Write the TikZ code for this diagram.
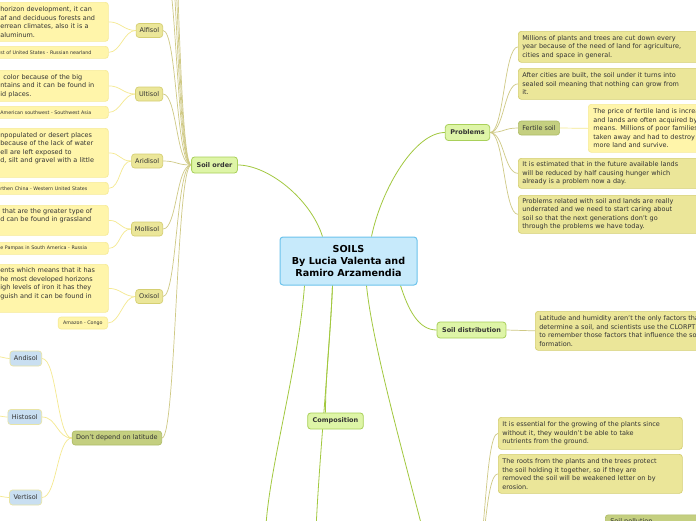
\documentclass[tikz,border=0pt]{standalone}
\usepackage{fontspec}
\setmainfont{DejaVu Sans}
\definecolor{cfill}{HTML}{C7EAFB}
\definecolor{cbd}{HTML}{6CC3EC}
\definecolor{mfill}{HTML}{DEF5A7}
\definecolor{mbd}{HTML}{A9D05A}
\definecolor{mline}{HTML}{A2C83F}
\definecolor{ofill}{HTML}{EBE699}
\definecolor{obd}{HTML}{D5CF72}
\definecolor{oline}{HTML}{CFC985}
\definecolor{dfill}{HTML}{C4CF80}
\definecolor{dbd}{HTML}{B0BD67}
\definecolor{yfill}{HTML}{FFF5AA}
\definecolor{ybd}{HTML}{F6EB98}
\definecolor{yline}{HTML}{F5E990}
\definecolor{bfill}{HTML}{C9DFF1}
\definecolor{bbd}{HTML}{E8E4A6}
\definecolor{txt}{HTML}{333333}
\newcommand\mmtext{\fontsize{6.5}{8.5}\selectfont}
\newcommand\mmtiny{\fontsize{4.8}{6}\selectfont}
\pgfdeclarelayer{bg}
\pgfsetlayers{bg,main}
\tikzset{
  box/.style={rounded corners=3pt, line width=0.7pt, text=txt, font=\mmtext, inner ysep=2pt},
  central/.style={box, fill=cfill, draw=cbd, line width=1pt, minimum width=137pt, minimum height=48pt,
    align=center, font=\bfseries\fontsize{9.6}{12}\selectfont, text=black},
  mainnode/.style={box, fill=mfill, draw=mbd, line width=0.8pt, minimum height=16pt, inner xsep=5pt,
    font=\bfseries\fontsize{6.5}{8}\selectfont},
  och/.style={box, fill=ofill, draw=obd, minimum height=14pt, inner xsep=3.5pt},
  dark/.style={box, fill=dfill, draw=dbd, minimum height=14pt, inner xsep=4pt},
  bluenode/.style={box, fill=bfill, draw=bbd, minimum height=15pt, inner xsep=4pt},
  ydesc/.style={box, fill=yfill, draw=ybd, anchor=north west, inner xsep=6pt, text width=102pt, align=left},
  yloc/.style={box, fill=yfill, draw=ybd, anchor=north west, inner xsep=6pt, text width=102pt, align=left,
    font=\mmtiny, minimum height=12pt, inner ysep=1pt},
  otext/.style={box, fill=ofill, draw=obd, anchor=north west, inner xsep=4pt, text width=200pt, align=left},
  ytext/.style={box, fill=yfill, draw=ybd, anchor=north west, inner xsep=5pt, text width=200pt, align=left},
  mconn/.style={draw=mline, line width=0.8pt},
  oconn/.style={draw=oline, line width=0.7pt},
  yconn/.style={draw=yline, line width=0.7pt},
}
\begin{document}
\begin{tikzpicture}[x=1pt,y=-1pt]
\useasboundingbox (0,0) rectangle (696,520);
\clip (0,0) rectangle (696,520);
\begin{pgfonlayer}{bg}
\fill[white] (0,0) rectangle (696,520);
\end{pgfonlayer}

% off-frame coordinates
\coordinate (u1) at (163,-40);
\coordinate (u2) at (163,-100);
\coordinate (u3) at (163,-170);
\coordinate (u4) at (163,-250);
\coordinate (b1) at (266,525);
\coordinate (b2) at (316,530);
\coordinate (b3) at (424,535);
\coordinate (bp) at (472,575);
\coordinate (sa) at (-14,354);
\coordinate (sh) at (-14,414);
\coordinate (sv) at (-14,494);

% central and main branches
\node[central] (c) at (348.5,261) {SOILS\\By Lucia Valenta and\\Ramiro Arzamendia};
\node[mainnode] (so) at (214.5,165) {Soil order};
\node[mainnode] (pr) at (467.5,132.5) {Problems};
\node[mainnode] (sd) at (471.5,330) {Soil distribution};
\node[mainnode] (cm) at (335.5,421) {Composition};

% soil order children
\node[och, anchor=east] (alf) at (163,30.5) {Alfisol};
\node[och, anchor=east] (ult) at (163,94) {Ultisol};
\node[och, anchor=east] (ari) at (163,161) {Aridisol};
\node[och, anchor=east] (mol) at (163,229) {Mollisol};
\node[och, anchor=east] (oxi) at (163,296.5) {Oxisol};
\node[dark, anchor=east] (dd) at (162,438) {Don't depend on latitude};

\node[bluenode, anchor=east] (and) at (42,358.5) {Andisol};
\node[bluenode, anchor=east] (his) at (42,417) {Histosol};
\node[bluenode, anchor=east] (ver) at (42,497.5) {Vertisol};

% left descriptions
\node[ydesc, minimum height=39pt] (alfd) at (-6,2) {horizon development, it can\\af and deciduous forests and\\errean climates, also it is a\\aluminum.};
\node[yloc] (alfl) at (-6,46) {st of United States - Russian nearland};
\node[ydesc, minimum height=31pt] (ultd) at (-6,70) {\hspace*{3pt}color because of the big\\ntains and it can be found in\\id places.};
\node[yloc] (ultl) at (-6,106) {American southwest - Southwest Asia};
\node[ydesc, minimum height=49pt] (arid) at (-6,128) {npopulated or desert places\\because of the lack of water\\ell are left exposed to\\d, silt and gravel with a little\\\strut};
\node[yloc] (aril) at (-6,182) {rthen China - Western United States};
\node[ydesc, minimum height=30pt] (mold) at (-6,205) {\hspace*{2pt}that are the greater type of\\d can be found in grassland\\\strut};
\node[yloc] (moll) at (-6,242) {e Pampas in South America - Russia};
\node[ydesc, minimum height=48pt] (oxid) at (-6,264) {ents which means that it has\\he most developed horizons\\igh levels of iron it has they\\guish and it can be found in\\\strut};
\node[box, fill=yfill, draw=ybd, anchor=east, font=\mmtiny, minimum height=12pt, inner xsep=5pt, inner ysep=1pt] (oxil) at (108,323) {Amazon - Congo};

% problems children
\node[otext, minimum height=31pt] (p1) at (518,31) {Millions of plants and trees are cut down every\\year because of the need of land for agriculture,\\cities and space in general.};
\node[otext, minimum height=31pt] (p2) at (518,68) {After cities are built, the soil under it turns into\\sealed soil meaning that nothing can grow from\\it.};
\node[dark, anchor=west] (fs) at (518,128) {Fertile soil};
\node[ytext, minimum height=48pt] (fsd) at (588,104) {The price of fertile land is increasing\\and lands are often acquired by\\means. Millions of poor families\\taken away and had to destroy\\more land and survive.};
\node[otext, minimum height=30pt] (p3) at (518,158) {It is estimated that in the future available lands\\will be reduced by half causing hunger which\\already is a problem now a day.};
\node[otext, minimum height=38pt] (p4) at (518,195) {Problems related with soil and lands are really\\underrated and we need to start caring about\\soil so that the next generations don't go\\through the problems we have today.};

% soil distribution child
\node[otext, minimum height=39pt] (sdd) at (535,311) {Latitude and humidity aren't the only factors that\\determine a soil, and scientists use the CLORPT\\to remember those factors that influence the soil\\formation.};

% composition-side boxes
\node[otext, text width=176pt, minimum height=32pt] (c1) at (498,417) {It is essential for the growing of the plants since\\without it, they wouldn't be able to take\\nutrients from the ground.};
\node[otext, text width=176pt, minimum height=39pt] (c2) at (498,454) {The roots from the plants and the trees protect\\the soil holding it together, so if they are\\removed the soil will be weakened letter on by\\erosion.};
\node[dark, anchor=north west, minimum width=100pt, inner xsep=5pt, align=left, text width=90pt] (sp) at (605,514.5) {Soil pollution};

% connectors
\begin{pgfonlayer}{bg}
% main branches
\draw[mconn] ([xshift=-26pt]c.north) .. controls +(-12,-38) and +(30,0) .. (so.east);
\draw[mconn] ([xshift=23pt]c.north) .. controls +(10,-48) and +(-30,0) .. (pr.west);
\draw[mconn] ([xshift=52pt]c.south) .. controls +(8,25) and +(-18,0) .. (sd.west);
\draw[mconn] ([xshift=-44pt]c.south) .. controls +(-6,80) and +(4,-60) .. (b1);
\draw[mconn] ([xshift=-16pt]c.south) .. controls +(-3,70) and +(3,-70) .. (b2);
\draw[mconn] ([xshift=-16pt]c.south) .. controls +(-2,50) and +(0,-40) .. ([xshift=-10pt]cm.north);
\draw[mconn] ([xshift=18pt]c.south) .. controls +(6,60) and +(-19,-75) .. (b3);
% soil order children
\foreach \t in {alf,ult,ari,mol,oxi,dd,u1,u2,u3,u4}
  \draw[oconn] (so.west) .. controls +(-15,0) and +(14,0) .. (\t.east);
% problems children
\foreach \t in {p1,p2,fs,p3,p4}
  \draw[oconn] (pr.east) .. controls +(14,0) and +(-14,0) .. (\t.west);
\draw[yconn] (fs.east) -- (fsd.west);
\draw[oconn] (sd.east) -- (sdd.west);
% composition side
\foreach \t in {c1,c2}
  \draw[oconn] (bp) .. controls +(14,0) and +(-14,0) .. (\t.west);
% description links
\foreach \p/\a/\b in {alf/alfd/alfl, ult/ultd/ultl, ari/arid/aril, mol/mold/moll, oxi/oxid/oxil}{
  \draw[yconn] (\p.west) .. controls +(-12,0) and +(12,0) .. (\a.east);
  \draw[yconn] (\p.west) .. controls +(-12,0) and +(12,0) .. (\b.east);
}
\foreach \t in {and,his,ver}
  \draw[yconn] (dd.west) .. controls +(-15,0) and +(15,0) .. (\t.east);
\draw[yconn] (and.west) .. controls +(-5,0) and +(5,0) .. (sa);
\draw[yconn] (his.west) .. controls +(-5,0) and +(5,0) .. (sh);
\draw[yconn] (ver.west) .. controls +(-5,0) and +(5,0) .. (sv);
\end{pgfonlayer}
\end{tikzpicture}
\end{document}
